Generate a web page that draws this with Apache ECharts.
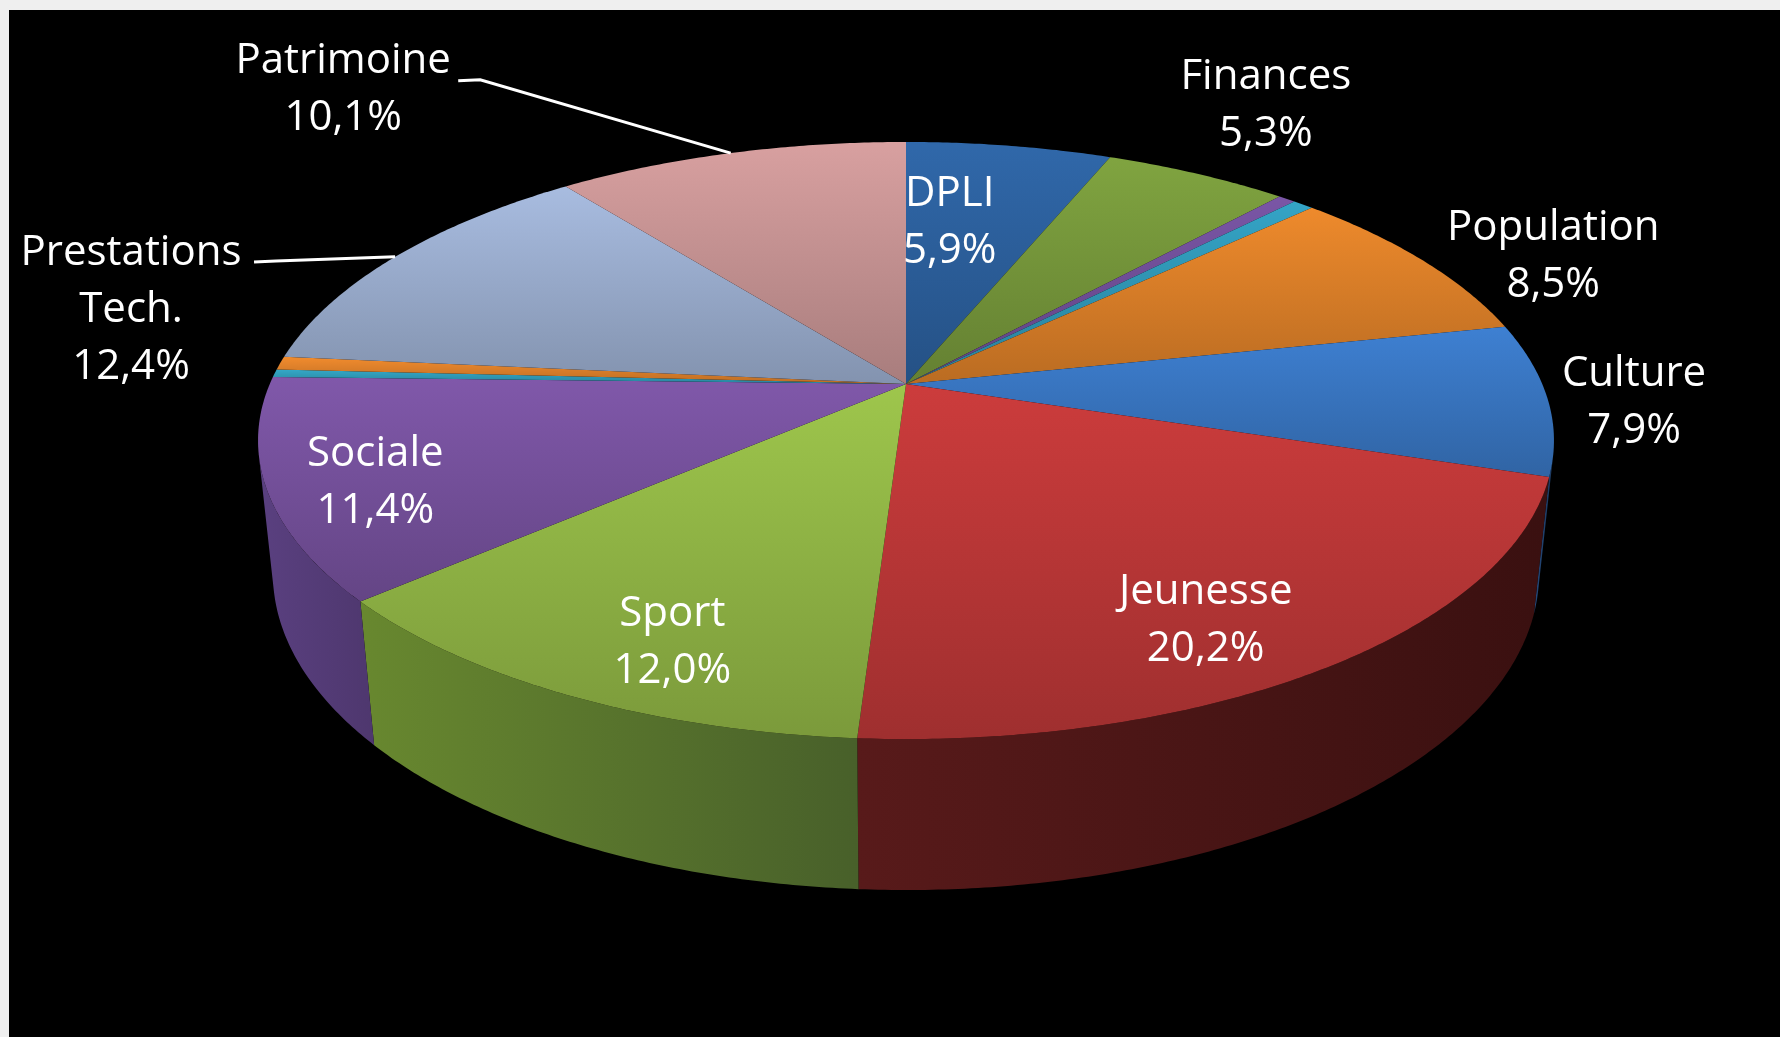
<!DOCTYPE html>
<html>
<head>
<meta charset="utf-8">
<script src="https://cdn.jsdelivr.net/npm/echarts@6/dist/echarts.min.js"></script>
<style>
    html, body {margin: 0; padding: 0; width: 1780px; height: 1037px; overflow: hidden; background: #efefef;}
    #chart {position: absolute; left: 9px; top: 10px; width: 1771px; height: 1027px; background: #000;}
</style>
</head>
<body>
<div id="chart"></div>
<script>
// slices, clockwise from 12 o'clock
const categories = ['DPLI', 'Finances', '', '', 'Population', 'Culture', 'Jeunesse', 'Sport', 'Sociale', '', '', 'Prestations Tech.', 'Patrimoine'];
const values = [5.9, 5.3, 0.5, 0.6, 8.5, 7.9, 20.2, 12.0, 11.4, 0.4, 0.7, 12.4, 10.1];

const topColors = ['#3068aa', '#80a440', '#7a56a6', '#34a4c6', '#ee8a2c', '#3e80d2', '#cc3c3c', '#9ec64c', '#8058aa', '#34a8c8', '#f28c2e', '#a8bce0', '#d8a0a0'];
const wallColors = {
    5: ['#24487a', '#1c385e'],
    6: ['#581a1a', '#3a1010'],
    7: ['#68882f', '#48602a'],
    8: ['#5a4080', '#4e376e']
};

// label placement: angle (deg, clockwise from top) and radius on the pie plane
const labelLayout = {
    'DPLI': {a: 6.8, r: 0.652},
    'Finances': {a: 29.9, r: 1.394},
    'Population': {a: 65.6, r: 1.224},
    'Culture': {a: 92.4, r: 1.135},
    'Jeunesse': {a: 149.6, r: 0.808},
    'Sport': {a: 202.6, r: 0.819},
    'Sociale': {a: 248.8, r: 0.843},
    'Prestations Tech.': {a: 282.7, r: 1.317, wrap: true, leader: [123, -43]},
    'Patrimoine': {a: 319.6, r: 1.699, leader: [115, -4]}
};

// perspective camera
const cx = 897, cy = 374, f = 2998, D = 4.712;
const sa = Math.sin(26.9 * Math.PI / 180), ca = Math.cos(26.9 * Math.PI / 180);
const thick = 0.2359;
const proj = (deg, r, y) => {
    const t = deg * Math.PI / 180;
    const x = r * Math.sin(t), z = -r * Math.cos(t);
    const d = D - (z * ca + y * sa);
    const u = y * ca - z * sa;
    return [cx + f * x / d, cy - f * u / d];
};
const wallMin = Math.acos(-1 / (D * ca)) * 180 / Math.PI;
const wallMax = 360 - wallMin;

const total = values.reduce((a, b) => a + b, 0);
const starts = [];
let acc = 0;
values.forEach(v => { starts.push(acc / total * 360); acc += v; });
const ends = values.map((v, i) => starts[i] + v / total * 360);

const arc = (a0, a1, r, y) => {
    const n = Math.max(2, Math.ceil((a1 - a0) / 0.5));
    const pts = [];
    for (let k = 0; k <= n; k++) pts.push(proj(a0 + (a1 - a0) * k / n, r, y));
    return pts;
};
const shade = (hex, k) => {
    const n = parseInt(hex.slice(1), 16);
    const c = [n >> 16, (n >> 8) & 255, n & 255].map(v => Math.max(0, Math.min(255, Math.round(v * k))));
    return 'rgb(' + c.join(',') + ')';
};
const fmt = v => v.toFixed(1).replace('.', ',') + '%';

const chart = echarts.init(document.getElementById('chart'));
chart.setOption({
    backgroundColor: '#000',
    animation: false,
    series: [
        {
            type: 'custom',
            coordinateSystem: 'none',
            silent: true,
            z: 1,
            data: values,
            renderItem: (params, api) => {
                const i = params.dataIndex;
                const a0 = Math.max(starts[i], wallMin), a1 = Math.min(ends[i], wallMax);
                if (a1 <= a0) return {type: 'group', children: []};
                const pts = arc(a0, a1, 1, 0).concat(arc(a0, a1, 1, -thick).reverse());
                const wc = wallColors[i] || [shade(topColors[i], 0.6), shade(topColors[i], 0.42)];
                return {
                    type: 'polygon',
                    shape: {points: pts},
                    style: {
                        fill: new echarts.graphic.LinearGradient(0, 0, 1, 0, [
                            {offset: 0, color: wc[0]},
                            {offset: 1, color: wc[1]}
                        ])
                    }
                };
            }
        },
        {
            type: 'custom',
            coordinateSystem: 'none',
            silent: true,
            z: 2,
            data: values,
            renderItem: (params, api) => {
                const i = params.dataIndex;
                const pts = [proj(0, 0, 0)].concat(arc(starts[i], ends[i], 1, 0));
                return {
                    type: 'polygon',
                    shape: {points: pts},
                    style: {
                        fill: new echarts.graphic.LinearGradient(0, 0, 0, 1, [
                            {offset: 0, color: topColors[i]},
                            {offset: 1, color: shade(topColors[i], 0.78)}
                        ])
                    }
                };
            }
        },
        {
            type: 'custom',
            coordinateSystem: 'none',
            silent: true,
            z: 3,
            data: values,
            renderItem: (params, api) => {
                const i = params.dataIndex;
                const lay = labelLayout[categories[i]];
                if (!lay) return {type: 'group', children: []};
                const p = proj(lay.a, lay.r, 0);
                const name = lay.wrap ? categories[i].replace(' ', '\n') : categories[i];
                const children = [{
                    type: 'text',
                    style: {
                        text: name + '\n' + fmt(values[i]),
                        x: p[0], y: p[1] + 5,
                        fill: '#fff',
                        fontSize: 42,
                        fontFamily: '"Open Sans", sans-serif',
                        lineHeight: 57,
                        align: 'center',
                        verticalAlign: 'middle'
                    }
                }];
                if (lay.leader) {
                    const s = [p[0] + lay.leader[0], p[1] + lay.leader[1]];
                    const b = [s[0] + 22, s[1] - 1];
                    const e = proj((starts[i] + ends[i]) / 2, 1.0, 0);
                    children.push({
                        type: 'polyline',
                        shape: {points: [s, b, e]},
                        style: {stroke: '#fff', lineWidth: 3, fill: null}
                    });
                }
                return {type: 'group', children};
            }
        }
    ]
});
</script>
</body>
</html>
